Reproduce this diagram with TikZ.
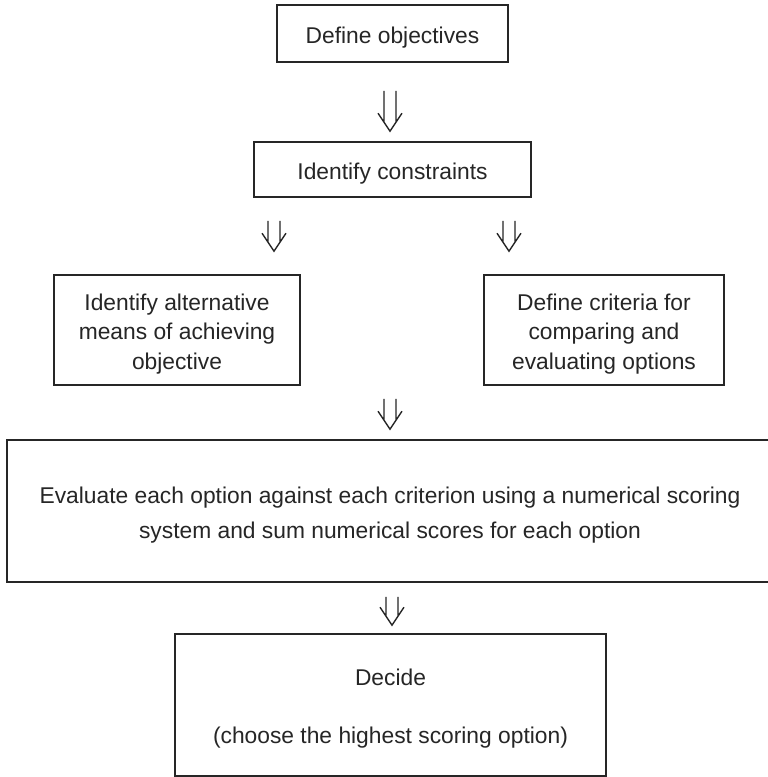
\documentclass[tikz,border=0pt]{standalone}
\usepackage{fontspec}
\setmainfont{Liberation Sans}
\usetikzlibrary{calc}

\definecolor{ink}{HTML}{262626}

% centred text block, set slightly low inside its box
\newcommand\boxlines[1]{\raisebox{-4pt}[\height][\depth]{\begin{tabular}{@{}c@{}}#1\end{tabular}}}

\tikzset{
  box/.style={draw=ink, line width=1.6pt, rectangle,
    inner sep=0pt, text=ink,
    font=\fontsize{22.8}{29.5}\selectfont},
  % hollow double-shafted downward arrow between two named points
  dblarrow/.style={draw=ink, line width=1.4pt, line join=miter,
    to path={
      ($(\tikztostart)+(-6,0)$) -- ($(\tikztotarget)+(-6,9)$)
      ($(\tikztostart)+(6,0)$) -- ($(\tikztotarget)+(6,9)$)
      ($(\tikztotarget)+(-12,18)$) -- (\tikztotarget) -- ($(\tikztotarget)+(12,18)$)
    }}
}

\begin{document}
\begin{tikzpicture}[x=1pt, y=1pt]
  \clip (0,0) rectangle (768,-777);
  \fill[white] (0,0) rectangle (768,-777);

  % process boxes
  \node[box, minimum width=231pt, minimum height=57pt] (b1) at (392.5,-33.5)
    {\boxlines{Define objectives}};
  \node[box, minimum width=277pt, minimum height=55pt] (b2) at (392.5,-169.5)
    {\boxlines{Identify constraints}};
  \node[box, minimum width=246pt, minimum height=110pt] (b3) at (177,-330)
    {\boxlines{Identify alternative\\means of achieving\\objective}};
  \node[box, minimum width=240pt, minimum height=110pt] (b4) at (604,-330)
    {\boxlines{Define criteria for\\comparing and\\evaluating options}};
  \node[box, minimum width=766pt, minimum height=142pt] (b5) at (390,-511)
    {\boxlines{Evaluate each option against each criterion using a numerical scoring\\[5.5pt]
     system and sum numerical scores for each option}};
  \node[box, minimum width=431pt, minimum height=142pt] (b6) at (390.5,-705)
    {\boxlines{Decide\\[28.5pt](choose the highest scoring option)}};

  % arrow end points
  \coordinate (a1s) at ($(b1.south)+(-2.5,-28)$);
  \coordinate (a1e) at ($(b2.north)+(-2.5,10)$);
  \coordinate (a2ls) at ($(b2.south)+(-118.5,-23)$);
  \coordinate (a2le) at ($(b3.north)+(97,23)$);
  \coordinate (a2rs) at ($(b2.south)+(116.5,-23)$);
  \coordinate (a2re) at ($(b4.north)+(-95,23)$);
  \coordinate (a3s) at ($(b3.south)!0.5!(b4.south)+(-0.5,-13)$);
  \coordinate (a3e) at ($(b5.north)+(0,10)$);
  \coordinate (a4s) at ($(b5.south)+(2,-14)$);
  \coordinate (a4e) at ($(b6.north)+(1.5,8)$);

  % flow arrows
  \draw[dblarrow] (a1s) to (a1e);
  \draw[dblarrow] (a2ls) to (a2le);
  \draw[dblarrow] (a2rs) to (a2re);
  \draw[dblarrow] (a3s) to (a3e);
  \draw[dblarrow] (a4s) to (a4e);
\end{tikzpicture}
\end{document}
